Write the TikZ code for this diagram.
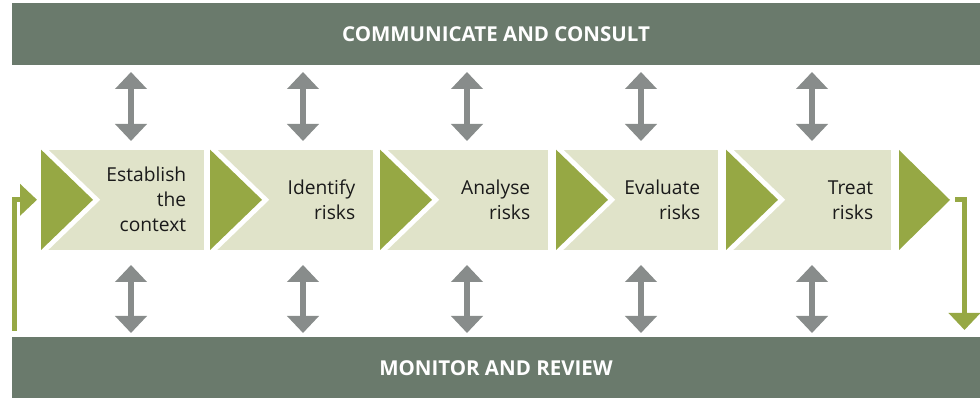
\documentclass[tikz,border=0pt]{standalone}
\usepackage{fontspec}
\setmainfont{Open Sans}
\usetikzlibrary{arrows.meta,positioning}
\definecolor{slate}{HTML}{6A7A6C}
\definecolor{pale}{HTML}{E0E3C9}
\definecolor{olive}{HTML}{96A844}
\definecolor{steel}{HTML}{888C8B}
\definecolor{ink}{HTML}{1A1A1A}

\begin{document}
\begin{tikzpicture}[x=1pt,y=1pt,
  bar/.style={fill=slate,text=white,font=\bfseries\fontsize{20.5}{22}\selectfont,
    minimum width=968pt,minimum height=62pt,inner sep=0pt},
  stepbox/.style={fill=pale,text=ink,font=\fontsize{19.2}{25}\selectfont,
    minimum height=100pt,inner sep=0pt,align=right,anchor=south west},
  updown/.style={steel,line width=5.5pt,
    {Triangle[width=31pt,length=17pt]}-{Triangle[width=31pt,length=17pt]}},
  feedback/.style={olive,line width=5pt,-{Triangle[width=31pt,length=17pt]}}]
  \useasboundingbox (0,0) rectangle (980,398);

  % the two long bars
  \node[bar] (comm) at (496,364) {COMMUNICATE AND CONSULT};
  \node[bar] (mon) at (496,30) {MONITOR AND REVIEW};

  % process steps, left edge and width of each
  \foreach \i/\xl/\w/\txt in {1/41/163/{Establish\\the\\context},2/210/163/{Identify\\risks},
      3/380/168/{Analyse\\risks},4/556/162/{Evaluate\\risks},5/726/165/{Treat\\risks}}{
    \pgfmathsetmacro{\tw}{\w-36}
    \node[stepbox,minimum width=\w pt,text width=\tw pt] (s\i) at (\xl,148) {\txt};
    \fill[olive,preaction={draw=white,line width=10pt}]
      (s\i.north west) -- ([xshift=52pt]s\i.west) -- (s\i.south west) -- cycle;
  }
  \coordinate (fin) at (899,148);
  \fill[olive] (fin) -- ++(0,100) -- ++(51,-50) coordinate (endtip) -- cycle;

  % consult / review arrows
  \foreach \i/\xx in {1/131,2/303,3/467,4/641,5/812}{
    \coordinate (ua\i) at (\xx,326);
    \coordinate (ub\i) at (\xx,257);
    \coordinate (la\i) at (\xx,133);
    \coordinate (lb\i) at (\xx,65);
    \draw[updown] (ua\i) -- (ub\i);
    \draw[updown] (la\i) -- (lb\i);
  }

  % loop back in and out
  \coordinate (back) at (14.5,67);
  \coordinate (down) at (964.5,68);
  \draw[feedback] (back) |- ([xshift=-4pt]s1.west);
  \draw[feedback] ([xshift=5pt]endtip) -| (down);
\end{tikzpicture}
\end{document}
